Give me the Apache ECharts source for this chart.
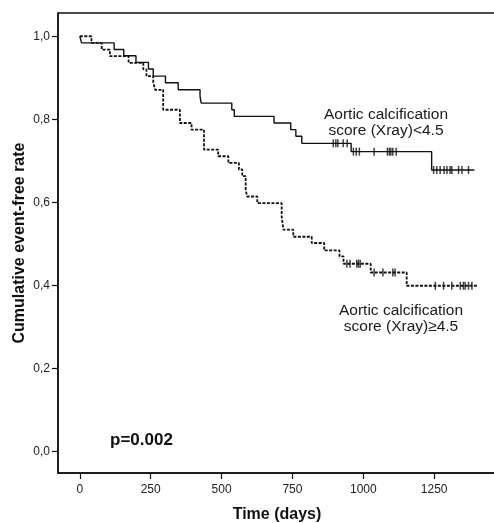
<!DOCTYPE html>
<html><head><meta charset="utf-8">
<script src="https://cdn.jsdelivr.net/npm/echarts@6/dist/echarts.min.js"></script>
<style>html,body{margin:0;padding:0;background:#fff}#c{width:494px;height:523px}</style>
</head><body><div id="c"></div>
<script>
const xTicks = [0, 250, 500, 750, 1000, 1250];
const yTicks = [0, 0.2, 0.4, 0.6, 0.8, 1.0];

// Aortic calcification score (Xray) < 4.5  (solid)
const lowEventTimes = [0, 6, 121, 155, 198, 242, 259, 302, 347, 424, 428, 536, 545, 685, 744, 762, 783, 957, 1241];
const lowLevels = [1.0, 0.984, 0.968, 0.953, 0.937, 0.921, 0.904, 0.888, 0.871, 0.855, 0.839, 0.823, 0.807, 0.791, 0.775, 0.759, 0.742, 0.722, 0.678];
const lowEndTime = 1392;
const lowCensored = [894, 903, 910, 929, 943, 965, 975, 986, 1038, 1085, 1092, 1097, 1104, 1116, 1248, 1259, 1271, 1285, 1295, 1306, 1312, 1336, 1348, 1371];

// Aortic calcification score (Xray) >= 4.5  (dashed)
const highEventTimes = [0, 41, 77, 106, 172, 224, 235, 259, 266, 294, 353, 394, 438, 488, 524, 561, 573, 585, 590, 626, 712, 718, 753, 818, 862, 916, 930, 1026, 1153];
const highLevels = [1.0, 0.984, 0.968, 0.952, 0.936, 0.920, 0.904, 0.888, 0.871, 0.823, 0.791, 0.775, 0.727, 0.711, 0.695, 0.679, 0.663, 0.630, 0.614, 0.598, 0.566, 0.534, 0.517, 0.502, 0.484, 0.470, 0.452, 0.431, 0.399];
const highEndTime = 1401;
const highCensored = [942, 953, 977, 983, 989, 1038, 1069, 1104, 1112, 1254, 1283, 1312, 1342, 1353, 1359, 1371, 1383];

const lowLabel = 'Aortic calcification\nscore (Xray)<4.5';
const highLabel = 'Aortic calcification\nscore (Xray)\u22654.5';
const pText = 'p=0.002';

function curve(times, levels, endT) {
  const d = times.map((t, i) => [t, levels[i]]);
  d.push([endT, levels[levels.length - 1]]);
  return d;
}
function levelAt(times, levels, t) {
  let v = levels[0];
  for (let i = 0; i < times.length; i++) if (times[i] <= t) v = levels[i];
  return v;
}
function censor(times, levels, cs) {
  return cs.map(t => [t, levelAt(times, levels, t)]);
}

const font = 'Liberation Sans, Arial, sans-serif';
const chart = echarts.init(document.getElementById('c'), null, {renderer: 'canvas'});
chart.setOption({
  animation: false,
  backgroundColor: '#fff',
  grid: {left: 58, top: 13, right: -2, bottom: 50, outerBoundsMode: 'none', containLabel: false,
    show: true, borderColor: '#111', borderWidth: 1.5, backgroundColor: 'transparent'},
  xAxis: {
    type: 'value', min: -77, max: 1468,
    name: 'Time (days)', nameLocation: 'middle', nameGap: 34, nameMoveOverlap: false,
    nameTextStyle: {fontFamily: font, fontSize: 16, fontWeight: 'bold', color: '#111'},
    axisLine: {show: true, onZero: false, lineStyle: {color: '#111', width: 1.5}},
    axisTick: {show: true, length: 6, customValues: xTicks, lineStyle: {color: '#111', width: 1.2}},
    axisLabel: {customValues: xTicks, margin: 11, fontFamily: font, fontSize: 12, color: '#222',
      formatter: v => String(v)},
    splitLine: {show: false}
  },
  yAxis: {
    type: 'value', min: -0.052, max: 1.056,
    name: 'Cumulative event-free rate', nameLocation: 'middle', nameGap: 30, nameRotate: 90, nameMoveOverlap: false,
    nameTextStyle: {fontFamily: font, fontSize: 16, fontWeight: 'bold', color: '#111'},
    axisLine: {show: true, onZero: false, lineStyle: {color: '#111', width: 1.5}},
    axisTick: {show: true, length: 6, customValues: yTicks, lineStyle: {color: '#111', width: 1.2}},
    axisLabel: {customValues: yTicks, margin: 8, fontFamily: font, fontSize: 12, color: '#222',
      formatter: v => v.toFixed(1).replace('.', ',')},
    splitLine: {show: false}
  },
  series: [
    {type: 'line', data: curve(lowEventTimes, lowLevels, lowEndTime), step: 'end', showSymbol: false,
      lineStyle: {color: '#111', width: 1.4}},
    {type: 'line', data: curve(highEventTimes, highLevels, highEndTime), step: 'end', showSymbol: false,
      lineStyle: {color: '#111', width: 1.8, type: [3, 1.5]}},
    {type: 'scatter', data: censor(lowEventTimes, lowLevels, lowCensored), symbol: 'rect', symbolSize: [1.5, 8],
      itemStyle: {color: '#111'}, z: 5},
    {type: 'scatter', data: censor(highEventTimes, highLevels, highCensored), symbol: 'rect', symbolSize: [1.5, 8],
      itemStyle: {color: '#111'}, z: 5}
  ],
  graphic: [
    {type: 'text', x: 386, y: 107, style: {text: lowLabel, textAlign: 'center', fontFamily: font, fontSize: 15.5, lineHeight: 16, fill: '#1a1a1a'}},
    {type: 'text', x: 401, y: 303, style: {text: highLabel, textAlign: 'center', fontFamily: font, fontSize: 15.5, lineHeight: 16, fill: '#1a1a1a'}},
    {type: 'text', x: 110, y: 432, style: {text: pText, fontFamily: font, fontSize: 17, fontWeight: 'bold', fill: '#111'}}
  ]
});
</script></body></html>
